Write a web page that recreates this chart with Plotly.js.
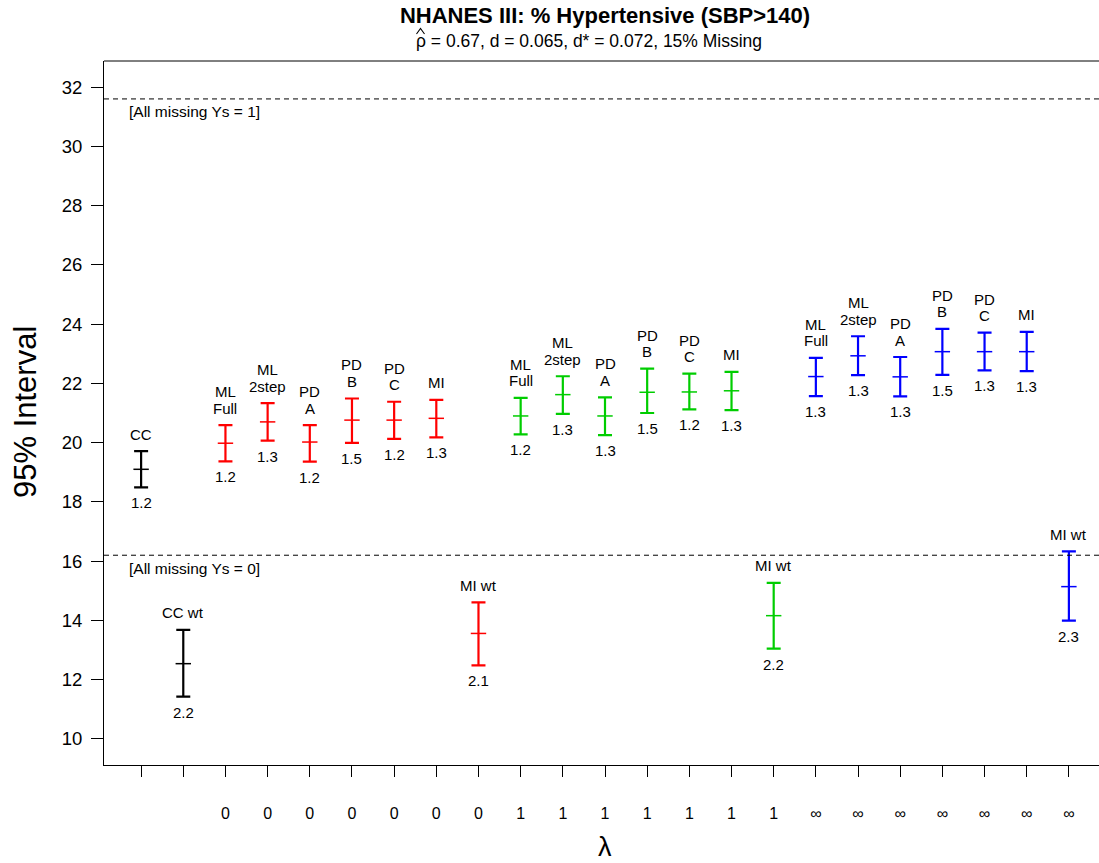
<!DOCTYPE html>
<html>
<head>
<meta charset="utf-8">
<script src="https://cdn.plot.ly/plotly-3.0.1.min.js"></script>
<style>
html, body { margin: 0; padding: 0; overflow: hidden; background: #fff; }
#plot { width: 1110px; height: 863px; }
</style>
</head>
<body>
<div id="plot"></div>
<script>
// ---- data ----
const methodLabels = ["CC", "CC wt",
  "ML\nFull", "ML\n2step", "PD\nA", "PD\nB", "PD\nC", "MI", "MI wt",
  "ML\nFull", "ML\n2step", "PD\nA", "PD\nB", "PD\nC", "MI", "MI wt",
  "ML\nFull", "ML\n2step", "PD\nA", "PD\nB", "PD\nC", "MI", "MI wt"];
const lambdaLabels = ["", "",
  "0", "0", "0", "0", "0", "0", "0",
  "1", "1", "1", "1", "1", "1", "1",
  "\u221e", "\u221e", "\u221e", "\u221e", "\u221e", "\u221e", "\u221e"];
const groups = ["none", "none",
  "0", "0", "0", "0", "0", "0", "0",
  "1", "1", "1", "1", "1", "1", "1",
  "inf", "inf", "inf", "inf", "inf", "inf", "inf"];
const lower = [18.49, 11.43,
  19.37, 20.07, 19.36, 19.99, 20.13, 20.18, 12.48,
  20.28, 20.97, 20.25, 21.00, 21.12, 21.10, 13.05,
  21.57, 22.28, 21.56, 22.29, 22.44, 22.41, 13.99];
const estimate = [19.10, 12.54,
  19.98, 20.70, 20.02, 20.76, 20.76, 20.82, 13.56,
  20.90, 21.62, 20.90, 21.70, 21.71, 21.75, 14.16,
  22.23, 22.93, 22.22, 23.07, 23.07, 23.07, 15.14];
const upper = [19.71, 13.68,
  20.59, 21.33, 20.59, 21.49, 21.38, 21.44, 14.61,
  21.51, 22.24, 21.53, 22.50, 22.33, 22.39, 15.27,
  22.86, 23.59, 22.89, 23.84, 23.71, 23.74, 16.33];
const widthLabels = ["1.2", "2.2",
  "1.2", "1.3", "1.2", "1.5", "1.2", "1.3", "2.1",
  "1.2", "1.3", "1.3", "1.5", "1.2", "1.3", "2.2",
  "1.3", "1.3", "1.3", "1.5", "1.3", "1.3", "2.3"];
const refLines = [31.6, 16.2];
const refLabels = ["[All missing Ys = 1]", "[All missing Ys = 0]"];
const groupOrder = ["none", "0", "1", "inf"];
const groupColors = {none: "#000000", "0": "#FF0000", "1": "#00CD00", inf: "#0000FF"};
const titleText = "NHANES III: % Hypertensive (SBP>140)";
const subtitleText = "\u03c1 = 0.67, d = 0.065, d* = 0.072, 15% Missing";

const FONT = "Liberation Sans, Arial, Helvetica, sans-serif";
const positions = methodLabels.map((_, i) => i + 1);

// plot-area geometry (px) for paper conversions
const PL = 104, PW = 1002, PT = 61, PH = 704;
const px2paperX = p => (p - PL) / PW;
const px2paperY = p => (PT + PH - p) / PH;

// ---- traces ----
const traces = groupOrder.map(g => {
  const idx = groups.map((v, i) => v === g ? i : -1).filter(i => i >= 0);
  const col = groupColors[g];
  return {
    type: "scatter",
    mode: "markers",
    x: idx.map(i => positions[i]),
    y: idx.map(i => estimate[i]),
    marker: {symbol: "line-ew", size: 11, color: col, line: {color: col, width: 1.5}},
    error_y: {
      type: "data", symmetric: false,
      array: idx.map(i => upper[i] - estimate[i]),
      arrayminus: idx.map(i => estimate[i] - lower[i]),
      color: col, thickness: 2.2, width: 7
    },
    hoverinfo: "skip",
    showlegend: false
  };
});

// ---- annotations ----
const annotations = [];
methodLabels.forEach((lab, i) => {
  const lines = lab.split("\n").reverse();
  lines.forEach((ln, k) => {
    annotations.push({
      x: positions[i], y: upper[i], xref: "x", yref: "y",
      text: ln, showarrow: false, xanchor: "center", yanchor: "middle",
      yshift: 17 + 16.5 * k, font: {family: FONT, size: 15, color: "#000"}
    });
  });
  annotations.push({
    x: positions[i], y: lower[i], xref: "x", yref: "y",
    text: widthLabels[i], showarrow: false, xanchor: "center", yanchor: "middle",
    yshift: -15.5, font: {family: FONT, size: 15, color: "#000"}
  });
});
refLines.forEach((v, i) => {
  annotations.push({
    x: px2paperX(127), xref: "paper", y: v, yref: "y", text: refLabels[i],
    showarrow: false, xanchor: "left", yanchor: "middle", yshift: -13,
    font: {family: FONT, size: 15.5, color: "#000"}
  });
});
// subtitle
annotations.push({
  x: px2paperX(414), xref: "paper", y: px2paperY(41), yref: "paper", text: subtitleText,
  showarrow: false, xanchor: "left", yanchor: "middle",
  font: {family: FONT, size: 17.5, color: "#000"}
});
// y axis title
annotations.push({
  x: px2paperX(25), xref: "paper", y: px2paperY(412), yref: "paper", text: "95% Interval",
  textangle: -90, showarrow: false, xanchor: "center", yanchor: "middle",
  font: {family: FONT, size: 31, color: "#000"}
});
// x axis title
annotations.push({
  x: 0.5, xref: "paper", y: px2paperY(847), yref: "paper", text: "\u03bb",
  showarrow: false, xanchor: "center", yanchor: "middle",
  font: {family: FONT, size: 27, color: "#000"}
});

// ---- shapes ----
const shapes = refLines.map(v => ({
  type: "line", xref: "paper", x0: 0, x1: 1, yref: "y", y0: v, y1: v,
  line: {color: "#000", width: 1, dash: "5px,4px"}
}));
shapes.push({type: "line", xref: "paper", x0: 0, x1: 1, yref: "paper", y0: 1, y1: 1,
  line: {color: "#000", width: 1}});
// hat over rho in the subtitle
const hx = [416.5, 420.5, 424.5].map(px2paperX);
const hy = [34, 28.5, 34].map(px2paperY);
shapes.push({type: "path", xref: "paper", yref: "paper",
  path: `M ${hx[0]} ${hy[0]} L ${hx[1]} ${hy[1]} L ${hx[2]} ${hy[2]}`,
  line: {color: "#000", width: 1.1}});

const layout = {
  width: 1110, height: 863, autosize: false,
  margin: {l: PL, r: 1110 - PL - PW, t: PT, b: 863 - PT - PH},
  paper_bgcolor: "#fff", plot_bgcolor: "#fff",
  title: {
    text: "<b>" + titleText + "</b>",
    font: {family: FONT, size: 22, color: "#000"},
    x: 0.5, xref: "paper", y: 1 - 15.5 / 863, yref: "container", yanchor: "middle"
  },
  xaxis: {
    range: [0.12, 23.88], showgrid: false, zeroline: false,
    showline: true, linecolor: "#000", linewidth: 1,
    tickmode: "array", tickvals: positions, ticktext: lambdaLabels,
    ticks: "outside", ticklen: 11, tickwidth: 1, tickcolor: "#000",
    ticklabelstandoff: 23,
    tickfont: {family: FONT, size: 16, color: "#000"}
  },
  yaxis: {
    range: [9.12, 32.88], showgrid: false, zeroline: false,
    showline: true, linecolor: "#000", linewidth: 1,
    tickmode: "array", tickvals: [10, 12, 14, 16, 18, 20, 22, 24, 26, 28, 30, 32],
    ticks: "outside", ticklen: 12, tickwidth: 1, tickcolor: "#000",
    ticklabelstandoff: 5,
    tickfont: {family: FONT, size: 18.5, color: "#000"}
  },
  annotations: annotations,
  shapes: shapes,
  showlegend: false
};

Plotly.newPlot("plot", traces, layout, {staticPlot: true, displayModeBar: false});
</script>
</body>
</html>
